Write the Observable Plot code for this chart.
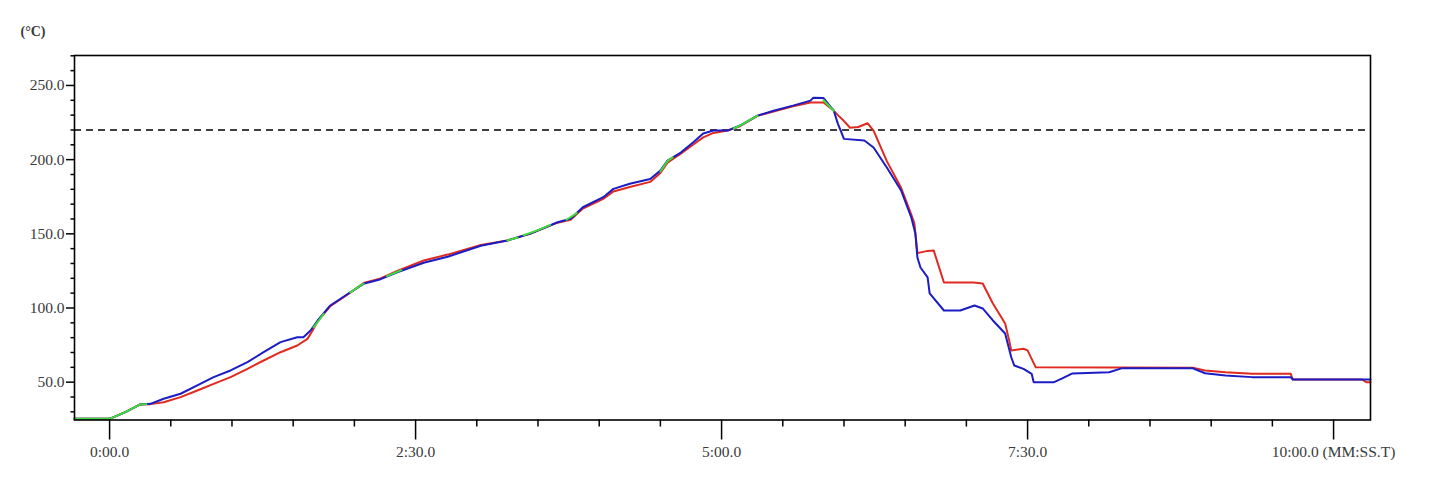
<!DOCTYPE html>
<html>
<head>
<meta charset="utf-8">
<script src="https://cdn.jsdelivr.net/npm/d3@7"></script>
<script src="https://cdn.jsdelivr.net/npm/@observablehq/plot@0.6"></script>
<style>
  html, body { margin: 0; padding: 0; background: #fff; }
  #chart { width: 1429px; height: 484px; overflow: hidden; }
</style>
</head>
<body>
<div id="chart"></div>
<script>
// ---- data (seconds from 0:00.0, temperature) ----
const redTime = [-17.2, 0, 8, 15, 20, 26.5, 34.8, 43, 51, 59.3, 67.6, 75.5, 83.8, 92, 97, 99.5, 102, 108, 118, 124.5, 132, 141, 154, 165.7, 182, 195, 206, 219.6, 226, 232, 242, 247, 255, 265, 270, 273.5, 280, 286, 291, 296, 303, 309, 317.6, 325.5, 335, 343.6, 350, 355, 357, 360, 363, 367, 371.6, 374.5, 381, 388, 393, 394.5, 396, 401, 404, 409, 423.5, 428, 433, 439, 441, 442, 448, 450, 454, 531, 537, 547, 560, 579, 580, 614, 616, 618.1];
const redTemp = [25.3, 25.3, 30, 35, 35.2, 36.5, 39.9, 44.4, 48.9, 53.4, 59, 64.6, 70.2, 74.7, 79.2, 84.8, 91, 101, 110.3, 116.8, 119.5, 125, 132, 136, 142.5, 145.5, 150, 157.5, 159.5, 167, 173.5, 178.5, 181.5, 185, 191, 198, 204, 210, 215, 218, 219.6, 222.5, 229.5, 232.5, 236, 238.5, 238.5, 233, 230, 226, 221.5, 222, 224.5, 219.6, 199, 181, 163, 157, 137, 138.5, 138.7, 117.2, 117.2, 116.5, 103, 89.6, 78, 71.4, 72.5, 71.4, 60, 59.8, 57.9, 56.7, 55.6, 55.6, 51.8, 51.8, 50, 50];

const blueTime = [-17.2, 0, 8, 15, 20, 26.5, 34.8, 43, 51, 59.3, 67.6, 75.5, 83.8, 92, 95, 98.5, 102, 108, 118, 124.5, 132, 141, 154, 165.7, 182, 195, 206, 219.6, 226, 232, 242, 247, 255, 265, 270, 273.5, 280, 286, 291, 296, 303, 309, 317.6, 325.5, 335, 343.6, 345, 350, 355, 357, 360, 370, 374.5, 381, 388, 393, 395, 396, 397.5, 401, 402, 409, 417, 424, 428, 433, 439, 442, 443.5, 448, 452, 453, 463, 467, 472, 490, 496, 531, 537, 547, 560, 579, 580, 618.1];
const blueTemp = [25.3, 25.3, 30, 35, 35.4, 38.8, 42.2, 47.8, 53.4, 57.9, 63.5, 70.2, 77, 80.3, 80.3, 84.8, 91.6, 101.5, 110.6, 116.3, 119, 124.1, 130.5, 134.5, 142, 145.5, 150, 157.8, 160.1, 167.9, 174.7, 180.3, 183.7, 187, 192.6, 199.4, 204.8, 211.5, 217.6, 219.6, 219.6, 223, 229.7, 233, 236.4, 239.8, 241.8, 241.5, 233, 224.3, 214, 212.9, 208.2, 194.7, 179.2, 161, 150.2, 134, 127.3, 120.6, 109.8, 98.3, 98.3, 101.7, 99.7, 91.6, 82.8, 66.8, 61.2, 59, 55.6, 50, 50, 52.5, 55.9, 56.7, 59.3, 59.3, 56, 54.5, 53.4, 53.4, 51.8, 51.8];

// green shows where both probes coincide (null = gap)
const greenTime = [-17.2, 0, 8, 15, 18, null, 100, 105, null, 118, 124.5, null, 136, 143, null, 195, 200, null, 203, 210, 216, null, 224, 229, null, 270, 273.5, 276, null, 306, 309, 317.6, null, 350, 355];
const greenTemp = [25.3, 25.3, 30, 35, 35.2, null, 87, 96, null, 110.5, 116.5, null, 121.5, 125.5, null, 145.5, 147.5, null, 149, 152.5, 156, null, 159.5, 164, null, 192, 199, 201.5, null, 221, 223, 229.6, null, 240, 233];

const limitTemp = [220];

const yMajorTicks = [50, 100, 150, 200, 250];
const yMinorTicks = [30, 40, 60, 70, 80, 90, 110, 120, 130, 140, 160, 170, 180, 190, 210, 220, 230, 240, 260, 270];
const xMajorTicks = [0, 150, 300, 450, 600];
const xTickLabels = ["0:00.0", "2:30.0", "5:00.0", "7:30.0", "10:00.0 (MM:SS.T)"];
const xMinorTicks = [30, 60, 90, 120, 180, 210, 240, 270, 330, 360, 390, 420, 480, 510, 540, 570];
const yUnitLabel = "(°C)";

// ---- build tables ----
const red = redTime.map((t, i) => ({t, v: redTemp[i]}));
const blue = blueTime.map((t, i) => ({t, v: blueTemp[i]}));
const green = greenTime.map((t, i) => ({t, v: greenTemp[i]}));

const txt = "#3a3a3a";
const chart = Plot.plot({
  width: 1429,
  height: 484,
  marginLeft: 74,
  marginRight: 59,
  marginTop: 55,
  marginBottom: 64.5,
  style: {fontFamily: "'Liberation Serif', serif", fontSize: "15.5px", color: "black", background: "white"},
  x: {domain: [-17.2, 618.1]},
  y: {domain: [24.5, 270.2]},
  marks: [
    Plot.ruleY(limitTemp, {stroke: "black", strokeWidth: 1.5, strokeDasharray: "7,5"}),
    Plot.line(red, {x: "t", y: "v", stroke: "#e02a20", strokeWidth: 2}),
    Plot.line(blue, {x: "t", y: "v", stroke: "#1c1cc4", strokeWidth: 2}),
    Plot.line(green, {x: "t", y: "v", stroke: "#3fdc3a", strokeWidth: 2}),
    Plot.axisY({ticks: yMinorTicks, tickSize: 3.5, tickFormat: () => "", label: null, strokeWidth: 1.5}),
    Plot.axisY({ticks: yMajorTicks, tickSize: 8, tickPadding: 2, tickFormat: d => d.toFixed(1), label: null, fill: txt, strokeWidth: 1.5}),
    Plot.axisX({ticks: xMinorTicks, tickSize: 7, tickFormat: () => "", label: null, strokeWidth: 1.5}),
    Plot.axisX({ticks: xMajorTicks, tickSize: 20, tickPadding: 6, tickFormat: d => xTickLabels[xMajorTicks.indexOf(d)], label: null, fill: txt, strokeWidth: 1.5}),
    Plot.frame({stroke: "black", strokeWidth: 1.6}),
    Plot.text([yUnitLabel], {text: d => d, frameAnchor: "top-left", dx: -54, dy: -29, textAnchor: "start", fontSize: 14, fontWeight: "bold", fill: txt})
  ]
});
document.getElementById("chart").appendChild(chart);
</script>
</body>
</html>
